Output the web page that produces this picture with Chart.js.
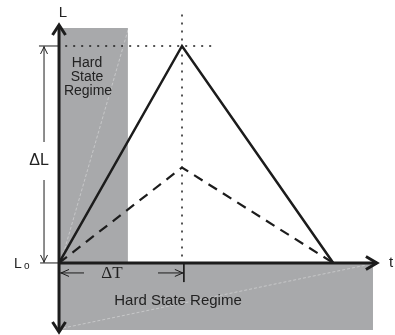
<!DOCTYPE html>
<html lang="en">
<head>
    <meta charset="UTF-8">
    <title>Hard State Regime</title>
    <script src="https://cdn.jsdelivr.net/npm/chart.js"></script>
    <style>
        html, body { margin: 0; padding: 0; background: #fff; }
        canvas { display: block; }
    </style>
</head>
<body>
    <canvas id="stateChart" width="395" height="335"></canvas>
    <script>
        // time in units of dT, luminosity in units of dL above L0
        const outburstT = [0, 1, 2.23];
        const solidL = [0, 1, 0];
        const dashedL = [0, 0.44, 0];

        // grey hard state regions
        const hardTopT = [0, 0.56];
        const hardTopL = [1.083, 1.083];
        const hardBottomT = [0, 2.553];
        const hardBottomL = [-0.309, -0.309];

        // axes extents
        const axisT = [0, 2.585];
        const axisL = [-0.318, 1.097];

        // view range
        const rangeT = [-0.48, 2.732];
        const rangeL = [-0.332, 1.212];

        const ink = '#1c1c1c';
        const grey = '#a8a9ab';

        const pts = (xs, ys) => xs.map((x, i) => ({x: x, y: ys[i]}));

        function seg(data, opts) {
            return Object.assign({
                data: data,
                showLine: true,
                pointRadius: 0,
                borderColor: ink,
                borderWidth: 1,
                fill: false,
                tension: 0,
                order: 1
            }, opts);
        }

        const datasets = [
            seg(pts(hardTopT, hardTopL), {backgroundColor: grey, borderWidth: 0, fill: 'origin', order: 10}),
            seg(pts(hardBottomT, hardBottomL), {backgroundColor: grey, borderWidth: 0, fill: 'origin', order: 10}),
            // faint streaks in the grey
            seg([{x: 0.561, y: 1.074}, {x: 0.016, y: 0.005}], {borderColor: 'rgba(255,255,255,0.35)', borderDash: [3, 2], order: 9}),
            seg([{x: 0.033, y: -0.3}, {x: 2.504, y: -0.009}], {borderColor: 'rgba(255,255,255,0.35)', borderDash: [3, 2], order: 9}),
            // guides
            seg([{x: 0.05, y: 1}, {x: 1.276, y: 1}], {borderWidth: 1.5, borderDash: [2, 6], order: 5}),
            seg([{x: 1, y: 1.145}, {x: 1, y: 0}], {borderWidth: 1.5, borderDash: [2, 6], order: 5}),
            seg([{x: -0.163, y: 1}, {x: 0, y: 1}], {order: 5}),
            seg([{x: -0.154, y: 0}, {x: 0, y: 0}], {order: 5}),
            seg([{x: 1.015, y: 0}, {x: 1.015, y: -0.088}], {order: 5}),
            // outbursts
            seg(pts(outburstT, dashedL), {borderWidth: 2.2, borderDash: [10, 7], order: 3}),
            seg(pts(outburstT, solidL), {borderWidth: 2.5, order: 2}),
            // axes
            seg([{x: 0, y: axisL[0]}, {x: 0, y: axisL[1]}], {borderWidth: 3, order: 1}),
            seg([{x: axisT[0], y: 0}, {x: axisT[1], y: 0}], {borderWidth: 3, order: 1})
        ];

        function arrowHead(ctx, tx, ty, dx, dy, len, half, width) {
            const n = Math.hypot(dx, dy);
            const ux = dx / n, uy = dy / n;
            ctx.beginPath();
            ctx.moveTo(tx - ux * len - uy * half, ty - uy * len + ux * half);
            ctx.lineTo(tx, ty);
            ctx.lineTo(tx - ux * len + uy * half, ty - uy * len - ux * half);
            ctx.lineWidth = width;
            ctx.stroke();
        }

        const annotate = {
            id: 'annotate',
            afterDatasetsDraw(chart) {
                const ctx = chart.ctx;
                const X = v => chart.scales.x.getPixelForValue(v);
                const Y = v => chart.scales.y.getPixelForValue(v);
                ctx.save();
                ctx.strokeStyle = ink;
                ctx.lineCap = 'butt';
                ctx.lineJoin = 'miter';

                // axis arrows
                arrowHead(ctx, X(0), Y(axisL[1]), 0, -1, 10, 6.5, 3);
                arrowHead(ctx, X(0), Y(axisL[0]), 0, 1, 10, 6.5, 3);
                arrowHead(ctx, X(axisT[1]), Y(0), 1, 0, 11, 6.5, 3);

                // delta L arrow
                const xl = X(-0.122);
                ctx.lineWidth = 1;
                ctx.beginPath();
                ctx.moveTo(xl, Y(1)); ctx.lineTo(xl, 142);
                ctx.moveTo(xl, 180); ctx.lineTo(xl, Y(0));
                ctx.stroke();
                arrowHead(ctx, xl, Y(1) + 1, 0, -1, 7, 3.5, 1);
                arrowHead(ctx, xl, Y(0) - 1, 0, 1, 7, 3.5, 1);

                // delta T arrow
                const yt = Y(-0.046);
                ctx.beginPath();
                ctx.moveTo(X(0), yt); ctx.lineTo(84, yt);
                ctx.moveTo(158, yt); ctx.lineTo(X(1.015), yt);
                ctx.stroke();
                arrowHead(ctx, X(0) + 2, yt, -1, 0, 8, 3.5, 1);
                arrowHead(ctx, X(1.015) - 1, yt, 1, 0, 8, 3.5, 1);

                // labels
                ctx.fillStyle = '#222';
                ctx.textAlign = 'center';
                ctx.textBaseline = 'middle';
                ctx.font = '15px "Liberation Sans"';
                ctx.fillText('L', X(0) + 4, 13);
                ctx.fillText('t', 391, Y(0));
                ctx.fillText('Hard State Regime', 178, 301);
                ctx.font = '14px "Liberation Sans"';
                ctx.fillText('Hard', 87, 63);
                ctx.fillText('State', 87, 77);
                ctx.fillText('Regime', 88, 91);
                ctx.font = '16px "Liberation Sans"';
                ctx.fillText('\u0394L', 39, 161);
                ctx.font = '17px "Liberation Serif"';
                ctx.fillText('\u0394T', 112, yt + 1);
                ctx.textAlign = 'left';
                ctx.font = '14px "Liberation Sans"';
                ctx.fillText('L', 14, Y(0) + 1);
                ctx.font = '10px "Liberation Sans"';
                ctx.fillText('o', 24, Y(0) + 3);
                ctx.restore();
            }
        };

        new Chart(document.getElementById('stateChart'), {
            type: 'scatter',
            data: {datasets: datasets},
            options: {
                responsive: false,
                animation: false,
                layout: {padding: 0},
                plugins: {legend: {display: false}, tooltip: {enabled: false}},
                scales: {
                    x: {type: 'linear', display: false, min: rangeT[0], max: rangeT[1]},
                    y: {type: 'linear', display: false, min: rangeL[0], max: rangeL[1]}
                }
            },
            plugins: [annotate]
        });
    </script>
</body>
</html>
